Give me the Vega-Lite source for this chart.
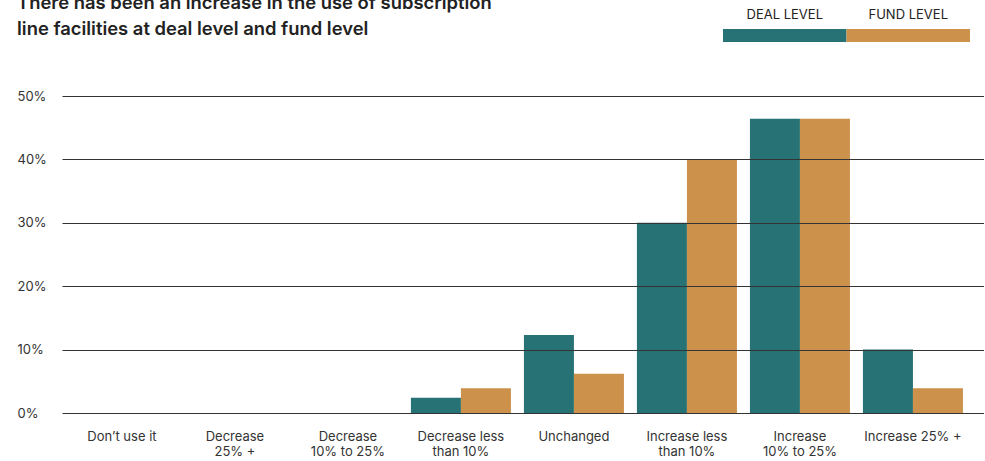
{
  "$schema": "https://vega.github.io/schema/vega-lite/v6.json",
  "padding": {"left": 17, "top": -7, "right": 0, "bottom": 0},
  "background": "white",
  "title": {
    "text": ["There has been an increase in the use of subscription", "line facilities at deal level and fund level"],
    "anchor": "start",
    "frame": "bounds",
    "font": "Inter",
    "fontSize": 18.4,
    "fontWeight": 600,
    "lineHeight": 26,
    "color": "#222222",
    "offset": -29.5
  },
  "datasets": {
    "bars": [
      {"category": "Don’t use it", "series": "DEAL LEVEL", "value": 0},
      {"category": "Don’t use it", "series": "FUND LEVEL", "value": 0},
      {"category": "Decrease\n25% +", "series": "DEAL LEVEL", "value": 0},
      {"category": "Decrease\n25% +", "series": "FUND LEVEL", "value": 0},
      {"category": "Decrease\n10% to 25%", "series": "DEAL LEVEL", "value": 0},
      {"category": "Decrease\n10% to 25%", "series": "FUND LEVEL", "value": 0},
      {"category": "Decrease less\nthan 10%", "series": "DEAL LEVEL", "value": 2.4},
      {"category": "Decrease less\nthan 10%", "series": "FUND LEVEL", "value": 3.9},
      {"category": "Unchanged", "series": "DEAL LEVEL", "value": 12.3},
      {"category": "Unchanged", "series": "FUND LEVEL", "value": 6.2},
      {"category": "Increase less\nthan 10%", "series": "DEAL LEVEL", "value": 30},
      {"category": "Increase less\nthan 10%", "series": "FUND LEVEL", "value": 40},
      {"category": "Increase\n10% to 25%", "series": "DEAL LEVEL", "value": 46.4},
      {"category": "Increase\n10% to 25%", "series": "FUND LEVEL", "value": 46.4},
      {"category": "Increase 25% +", "series": "DEAL LEVEL", "value": 10},
      {"category": "Increase 25% +", "series": "FUND LEVEL", "value": 3.9}
    ],
    "legend": [
      {"series": "DEAL LEVEL"},
      {"series": "FUND LEVEL"}
    ]
  },
  "spacing": 48,
  "vconcat": [
    {
      "width": 922,
      "height": 13,
      "data": {"name": "legend"},
      "layer": [
        {
          "mark": {"type": "rect"},
          "encoding": {
            "x": {"field": "series", "type": "nominal", "sort": null, "scale": {"range": [661, 908], "paddingInner": 0, "paddingOuter": 0}, "axis": null},
            "color": {"field": "series", "type": "nominal", "scale": {"domain": ["DEAL LEVEL", "FUND LEVEL"], "range": ["#267274", "#cc914a"]}, "legend": null}
          }
        },
        {
          "mark": {"type": "text", "dy": -21, "font": "Inter", "fontSize": 13, "color": "#222222"},
          "encoding": {
            "x": {"field": "series", "type": "nominal", "sort": null},
            "text": {"field": "series"}
          }
        }
      ]
    },
    {
      "width": 922,
      "height": 317,
      "data": {"name": "bars"},
      "mark": {"type": "bar"},
      "encoding": {
        "x": {
          "field": "category", "type": "nominal", "sort": null,
          "scale": {"paddingInner": 0.115, "paddingOuter": 0.137, "align": 0.32},
          "axis": {
            "title": null, "domain": false, "ticks": false, "labelAngle": 0,
            "labelPadding": 17, "labelFont": "Inter", "labelFontSize": 13, "labelLineHeight": 15,
            "labelColor": "#333333", "labelBaseline": "top",
            "labelExpr": "split(datum.label, '\\n')"
          }
        },
        "xOffset": {"field": "series", "type": "nominal", "sort": ["DEAL LEVEL", "FUND LEVEL"], "scale": {"paddingInner": 0, "paddingOuter": 0}},
        "y": {
          "field": "value", "type": "quantitative",
          "scale": {"domain": [0, 50]},
          "axis": {
            "title": null, "domain": false, "ticks": false,
            "values": [0, 10, 20, 30, 40, 50],
            "labelExpr": "datum.value + '%'",
            "labelAlign": "left", "labelPadding": 45,
            "labelFont": "Inter", "labelFontSize": 13, "labelColor": "#333333",
            "grid": true, "gridColor": "#333333", "gridWidth": 1, "zindex": 1
          }
        },
        "color": {"field": "series", "type": "nominal", "legend": null}
      }
    }
  ],
  "config": {
    "view": {"stroke": null},
    "font": "Inter"
  }
}
